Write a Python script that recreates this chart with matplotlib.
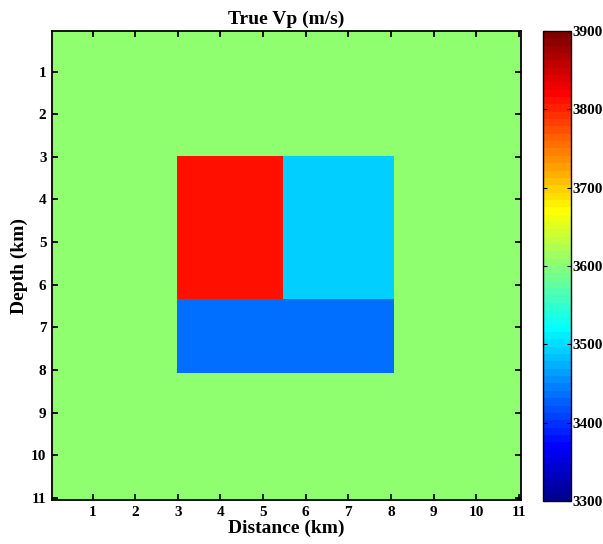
import numpy as np
import matplotlib
matplotlib.use('Agg')
import matplotlib.pyplot as plt
from matplotlib.colors import ListedColormap

# velocity model (m/s)
v_background = 3600
v_red = 3810
v_cyan = 3492
v_blue = 3435
# block edges (km)
x_left, x_split, x_right = 3.0, 5.5, 8.1
z_top, z_split, z_bottom = 3.0, 6.35, 8.1

x = np.round(np.arange(0.1, 11.01, 0.05), 3)
z = np.round(np.arange(0.1, 11.01, 0.05), 3)
X, Z = np.meshgrid(x, z)

vp = np.full(X.shape, v_background, dtype=float)
vp[(X >= x_left) & (X < x_split) & (Z >= z_top) & (Z < z_split)] = v_red
vp[(X >= x_split) & (X < x_right) & (Z >= z_top) & (Z < z_split)] = v_cyan
vp[(X >= x_left) & (X < x_right) & (Z >= z_split) & (Z < z_bottom)] = v_blue


def matlab_jet(m=64):
    # same construction as MATLAB's jet(m)
    n = int(np.ceil(m / 4))
    u = np.concatenate([np.arange(1, n + 1) / n, np.ones(n - 1), np.arange(n, 0, -1) / n])
    g = int(np.ceil(n / 2)) - (m % 4 == 1) + np.arange(1, len(u) + 1)
    r = g + n
    b = g - n
    J = np.zeros((m, 3))
    for col, idx in enumerate([r, g, b]):
        ok = (idx >= 1) & (idx <= m)
        J[idx[ok] - 1, col] = u[ok]
    return ListedColormap(J)


plt.rcParams['font.family'] = 'Liberation Serif'
plt.rcParams['font.weight'] = 'bold'

fig = plt.figure(figsize=(6.03, 5.44), dpi=100)
ax = fig.add_axes([52/603, 1-500/544, 469/603, 469/544])
im = ax.imshow(vp, cmap=matlab_jet(64), vmin=3300, vmax=3900,
               extent=[0.075, 11.025, 11.025, 0.075], aspect='auto', interpolation='nearest')
ax.set_xlim(0.05, 11.05)
ax.set_ylim(11.05, 0.05)
ax.set_xticks(np.arange(1, 12))
ax.set_yticks(np.arange(1, 12))
ax.tick_params(direction='in', top=True, right=True, labelsize=11, length=4, width=1.3, pad=4)
for s in ax.spines.values():
    s.set_linewidth(1.3)
ax.set_title('True Vp (m/s)', fontsize=14, fontweight='bold', pad=5)
ax.set_xlabel('Distance (km)', fontsize=14, fontweight='bold', labelpad=1)
ax.set_ylabel('Depth (km)', fontsize=14, fontweight='bold', labelpad=2)

cax = fig.add_axes([543/603, 1-501/544, 28/603, 470/544])
cb = fig.colorbar(im, cax=cax, ticks=np.arange(3300, 3901, 100))
cb.ax.tick_params(direction='in', left=True, right=True, labelsize=11, length=3, pad=1)
cb.outline.set_linewidth(1)

fig.savefig('out.png', dpi=100)
